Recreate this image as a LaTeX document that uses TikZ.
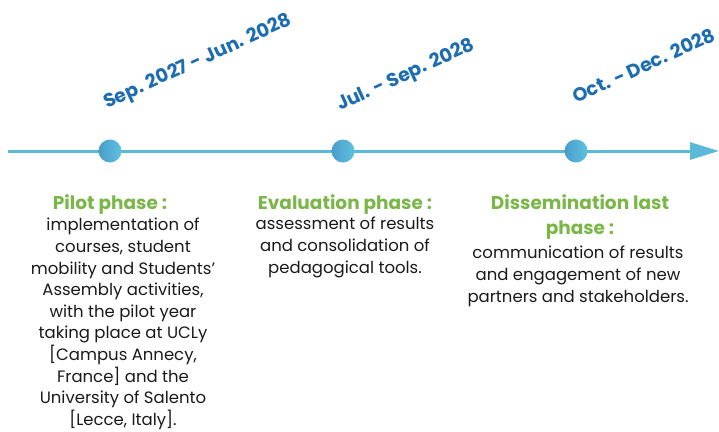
\documentclass[tikz,border=0pt]{standalone}
\usepackage{fontspec}
\setmainfont{Poppins}
\usetikzlibrary{arrows.meta}
\definecolor{linec}{HTML}{5AB9D8}
\definecolor{dotl}{HTML}{4A9CCB}
\definecolor{dotr}{HTML}{5EC2DF}
\definecolor{datec}{HTML}{1E6DB0}
\definecolor{headc}{HTML}{7AB648}
\definecolor{bodyc}{HTML}{1A1A1A}
\tikzset{
  dot/.style={circle, minimum size=23pt, inner sep=0pt, shading=axis, left color=dotl, right color=dotr, shading angle=90},
  datelabel/.style={rotate=24.5, anchor=base west, inner sep=0pt, text=datec, font=\bfseries\fontsize{19}{22}\selectfont},
  heading/.style={anchor=north, align=center, inner sep=0pt, text=headc, font=\bfseries\fontsize{18.5}{25}\selectfont},
  phase/.style={anchor=north, align=center, inner sep=0pt, text=bodyc, font=\fontsize{16.5}{21.6}\selectfont},
  timeline/.style={line width=3pt, draw=linec, -{Triangle[length=29pt,width=17pt,fill=linec]}}
}
\begin{document}
\begin{tikzpicture}[x=1pt,y=-1pt]
\useasboundingbox (0,0) rectangle (719,431);
\coordinate (start) at (8,151);
\coordinate (end) at (719,151);
\draw[timeline] (start) -- (end);
\node[dot] (d1) at (110,151) {};
\node[dot] (d2) at (343,151) {};
\node[dot] (d3) at (576,151) {};
\node[datelabel] (t1) at (107,109) {Sep. 2027 - Jun. 2028};
\node[datelabel] (t2) at (340,111) {Jul. - Sep. 2028};
\node[datelabel] (t3) at (576,104) {Oct. - Dec. 2028};
\node[heading] (h1) at (110,194) {Pilot phase :};
\node[phase] (p1) at (123,218) {implementation of\\courses, student\\mobility and Students'\\Assembly activities,\\with the pilot year\\taking place at UCLy\\{[}Campus Annecy,\\France{]} and the\\University of Salento\\{[}Lecce, Italy{]}.};
\node[heading] (h2) at (345,194) {Evaluation phase :};
\node[phase] (p2) at (345,217) {assessment of results\\and consolidation of\\pedagogical tools.};
\node[heading] (h3) at (580,194) {Dissemination last\\phase :};
\node[phase] (p3) at (578,246) {communication of results\\and engagement of new\\partners and stakeholders.};
\end{tikzpicture}
\end{document}
